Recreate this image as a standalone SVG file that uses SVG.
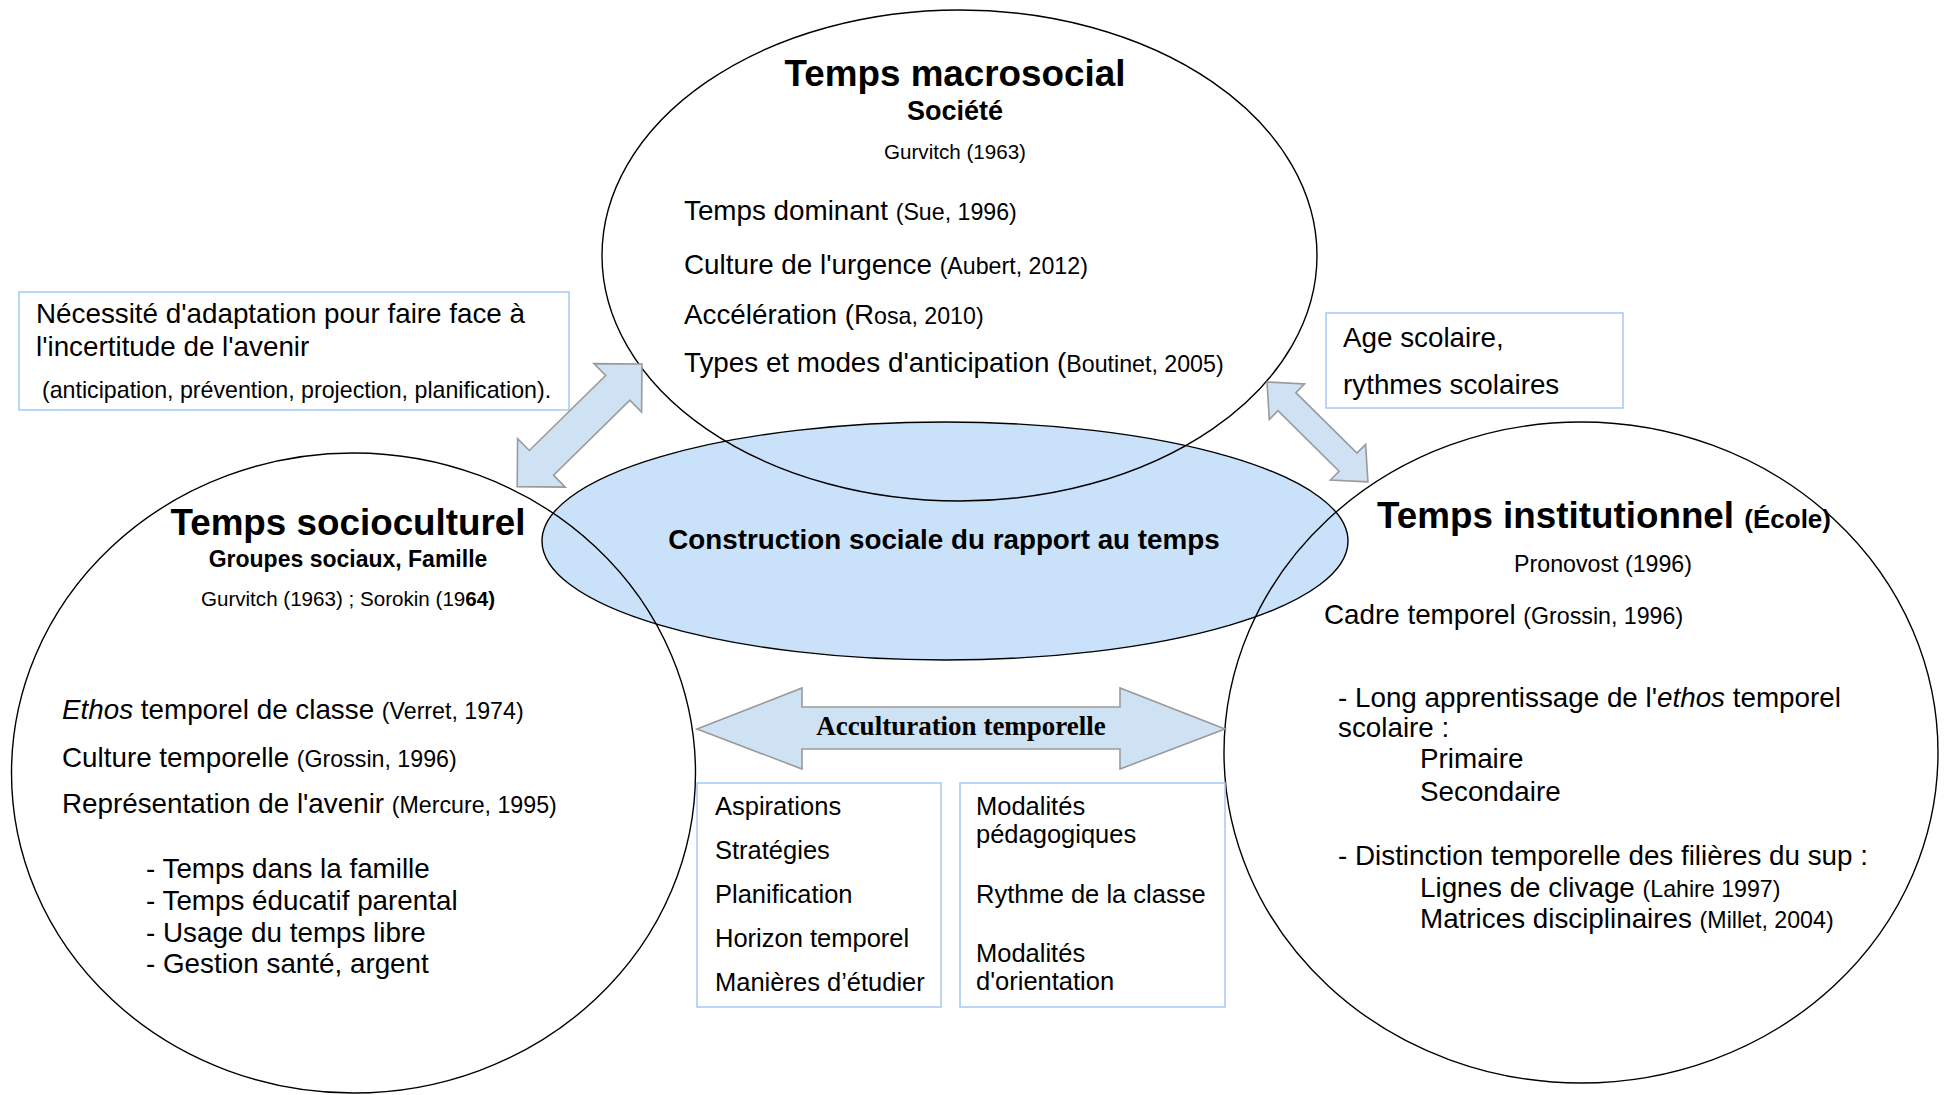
<svg xmlns="http://www.w3.org/2000/svg" width="1945" height="1095" viewBox="0 0 1945 1095">
<style>
text{font-family:"Liberation Sans",Arial,sans-serif;fill:#000}
.t{font-size:27.8px}
.s{font-size:23.2px}
.r{font-size:20.6px}
.h{font-size:36.8px;font-weight:bold}
.b{font-weight:bold}
.c{text-anchor:middle}
.ring{fill:none;stroke:#000;stroke-width:1.4}
.core{fill:#c9e2f9;stroke:#000;stroke-width:1.4}
.box{fill:#fff;stroke:#a4c9f4;stroke-width:1.5}
.arr{fill:#cfe2f3;stroke:#9a9a9a;stroke-width:1.6;stroke-linejoin:miter}
.serif{font-family:"Liberation Serif","Times New Roman",serif;font-weight:bold;font-size:27px}
</style>
<rect width="1945" height="1095" fill="#fff"/>

<g id="construction">
<ellipse class="core" cx="945" cy="541" rx="403" ry="119"/>
<text class="t b c" x="944" y="549">Construction sociale du rapport au temps</text>
</g>

<g id="macrosocial">
<ellipse class="ring" cx="959.5" cy="255.5" rx="357.5" ry="245.5"/>
<text class="h c" x="955" y="86">Temps macrosocial</text>
<text class="b c" x="955" y="120" style="font-size:27px">Société</text>
<text class="r c" x="955" y="159">Gurvitch (1963)</text>
<text class="t" x="684" y="220">Temps dominant <tspan class="s">(Sue, 1996)</tspan></text>
<text class="t" x="684" y="274">Culture de l'urgence <tspan class="s">(Aubert, 2012)</tspan></text>
<text class="t" x="684" y="324">Accélération (R<tspan class="s">osa, 2010)</tspan></text>
<text class="t" x="684" y="372">Types et modes d'anticipation (<tspan class="s">Boutinet, 2005)</tspan></text>
</g>

<g id="socioculturel">
<ellipse class="ring" cx="353.5" cy="773" rx="342" ry="320"/>
<text class="h c" x="348" y="535">Temps socioculturel</text>
<text class="b c" x="348" y="567" style="font-size:23px">Groupes sociaux, Famille</text>
<text class="r c" x="348" y="606">Gurvitch (1963) ; Sorokin (19<tspan class="b">64)</tspan></text>
<text class="t" x="62" y="719"><tspan font-style="italic">Ethos</tspan> temporel de classe <tspan class="s">(Verret, 1974)</tspan></text>
<text class="t" x="62" y="767">Culture temporelle <tspan class="s">(Grossin, 1996)</tspan></text>
<text class="t" x="62" y="813">Représentation de l'avenir <tspan class="s">(Mercure, 1995)</tspan></text>
<text class="t" x="146" y="878">- Temps dans la famille</text>
<text class="t" x="146" y="910">- Temps éducatif parental</text>
<text class="t" x="146" y="942">- Usage du temps libre</text>
<text class="t" x="146" y="973">- Gestion santé, argent</text>
</g>

<g id="institutionnel">
<ellipse class="ring" cx="1581" cy="752.5" rx="357" ry="330.5"/>
<text class="h" x="1377" y="528">Temps institutionnel <tspan style="font-size:26px">(École)</tspan></text>
<text class="s c" x="1603" y="572">Pronovost (1996)</text>
<text class="t" x="1324" y="624">Cadre temporel <tspan class="s">(Grossin, 1996)</tspan></text>
<text class="t" x="1338" y="707">- Long apprentissage de l'<tspan font-style="italic">ethos</tspan> temporel</text>
<text class="t" x="1338" y="737">scolaire :</text>
<text class="t" x="1420" y="768">Primaire</text>
<text class="t" x="1420" y="801">Secondaire</text>
<text class="t" x="1338" y="865">- Distinction temporelle des filières du sup :</text>
<text class="t" x="1420" y="897">Lignes de clivage <tspan class="s">(Lahire 1997)</tspan></text>
<text class="t" x="1420" y="928">Matrices disciplinaires <tspan class="s">(Millet, 2004)</tspan></text>
</g>

<g id="box-adaptation">
<rect class="box" x="19" y="292" width="550" height="118"/>
<text class="t" x="36" y="323">Nécessité d'adaptation pour faire face à</text>
<text class="t" x="36" y="356">l'incertitude de l'avenir</text>
<text class="s" x="42" y="398">(anticipation, prévention, projection, planification).</text>
</g>

<g id="box-age">
<rect class="box" x="1326" y="313" width="297" height="95"/>
<text class="t" x="1343" y="347">Age scolaire,</text>
<text class="t" x="1343" y="394">rythmes scolaires</text>
</g>

<g id="box-aspirations">
<rect class="box" x="697" y="783" width="244" height="224"/>
<text class="t" x="715" y="815" style="font-size:25.5px">Aspirations</text>
<text class="t" x="715" y="859" style="font-size:25.5px">Stratégies</text>
<text class="t" x="715" y="903" style="font-size:25.5px">Planification</text>
<text class="t" x="715" y="947" style="font-size:25.5px">Horizon temporel</text>
<text class="t" x="715" y="991" style="font-size:25.5px">Manières d’étudier</text>
</g>

<g id="box-modalites">
<rect class="box" x="960" y="783" width="265" height="224"/>
<text class="t" x="976" y="815" style="font-size:25.5px">Modalités</text>
<text class="t" x="976" y="843" style="font-size:25.5px">pédagogiques</text>
<text class="t" x="976" y="903" style="font-size:25.5px">Rythme de la classe</text>
<text class="t" x="976" y="962" style="font-size:25.5px">Modalités</text>
<text class="t" x="976" y="990" style="font-size:25.5px">d'orientation</text>
</g>

<g id="connectors">
<polygon class="arr" transform="translate(642,364) rotate(135.5)" points="0,0 34,-34 34,-17.3 141,-17.3 141,-34 175,0 141,34 141,17.3 34,17.3 34,34"/>
<polygon class="arr" transform="translate(1267,382) rotate(44.7)" points="0,0 28,-25 28,-12.7 114,-12.7 114,-25 142,0 114,25 114,12.7 28,12.7 28,25"/>
<polygon class="arr" points="697,729 802,688 802,707 1120,707 1120,688 1225,729 1120,769 1120,749 802,749 802,769"/>
<text class="serif c" x="961" y="735">Acculturation temporelle</text>
</g>
</svg>
